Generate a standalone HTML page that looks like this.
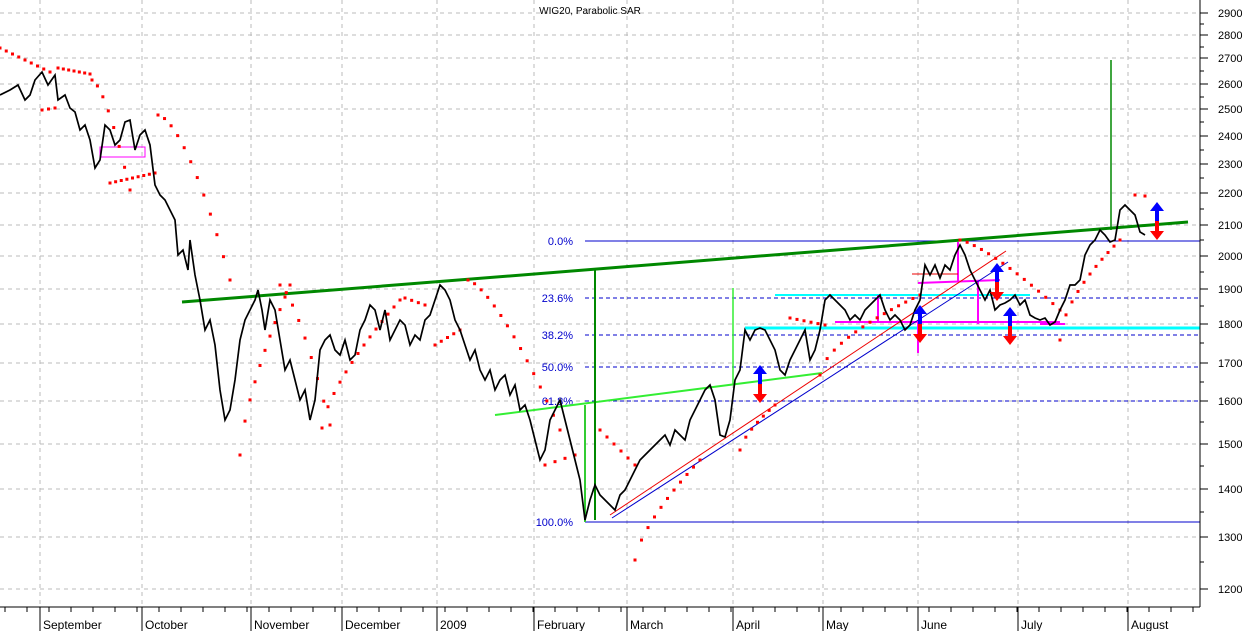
<!DOCTYPE html>
<html><head><meta charset="utf-8"><style>
body{margin:0;background:#fff;}
svg{display:block;font-family:"Liberation Sans",sans-serif;}
</style></head><body>
<svg id="c" width="1250" height="631" viewBox="0 0 1250 631" xmlns="http://www.w3.org/2000/svg">
<rect width="1250" height="631" fill="#fff"/>
<g stroke="#bbb" stroke-dasharray="4,4" stroke-width="1">
<line x1="0" x2="1200" y1="13" y2="13"/><line x1="0" x2="1200" y1="35" y2="35"/><line x1="0" x2="1200" y1="58" y2="58"/><line x1="0" x2="1200" y1="84" y2="84"/><line x1="0" x2="1200" y1="109" y2="109"/><line x1="0" x2="1200" y1="136" y2="136"/><line x1="0" x2="1200" y1="164" y2="164"/><line x1="0" x2="1200" y1="193" y2="193"/><line x1="0" x2="1200" y1="225" y2="225"/><line x1="0" x2="1200" y1="256" y2="256"/><line x1="0" x2="1200" y1="289" y2="289"/><line x1="0" x2="1200" y1="324" y2="324"/><line x1="0" x2="1200" y1="363" y2="363"/><line x1="0" x2="1200" y1="401" y2="401"/><line x1="0" x2="1200" y1="444" y2="444"/><line x1="0" x2="1200" y1="489" y2="489"/><line x1="0" x2="1200" y1="537" y2="537"/><line x1="0" x2="1200" y1="589" y2="589"/>
<line x1="40" x2="40" y1="0" y2="607"/><line x1="142" x2="142" y1="0" y2="607"/><line x1="251" x2="251" y1="0" y2="607"/><line x1="342" x2="342" y1="0" y2="607"/><line x1="437" x2="437" y1="0" y2="607"/><line x1="534" x2="534" y1="0" y2="607"/><line x1="627" x2="627" y1="0" y2="607"/><line x1="733" x2="733" y1="0" y2="607"/><line x1="823" x2="823" y1="0" y2="607"/><line x1="918" x2="918" y1="0" y2="607"/><line x1="1018" x2="1018" y1="0" y2="607"/><line x1="1128" x2="1128" y1="0" y2="607"/>
</g>
<text x="590" y="14" font-size="10" text-anchor="middle" fill="#000">WIG20, Parabolic SAR</text>
<g stroke="#00c" stroke-width="1">
<line x1="585" x2="1200" y1="241" y2="241"/><line x1="585" x2="1200" y1="522" y2="522"/>
<g stroke-dasharray="4,3"><line x1="585" x2="1200" y1="298" y2="298"/><line x1="585" x2="1200" y1="335" y2="335"/><line x1="585" x2="1200" y1="367" y2="367"/><line x1="585" x2="1200" y1="401" y2="401"/></g>
</g>
<g fill="#00c" font-size="11" text-anchor="end">
<text x="573" y="245">0.0%</text><text x="573" y="302">23.6%</text><text x="573" y="339">38.2%</text><text x="573" y="371">50.0%</text><text x="573" y="405">61.8%</text><text x="573" y="526">100.0%</text>
</g>
<rect x="100" y="147" width="45" height="10" fill="none" stroke="#f0f" stroke-width="1"/>
<line x1="745" y1="328" x2="1200" y2="328" stroke="#0ff" stroke-width="3"/>
<line x1="775" y1="295" x2="1030" y2="295" stroke="#0ff" stroke-width="2"/>
<g stroke="#f0f" stroke-width="2" fill="none">
<polyline points="835,322 1060,322"/><polyline points="878,295 878,322"/><polyline points="918,322 918,353"/>
<polyline points="918,283 1000,280"/><polyline points="958,242 958,282"/><polyline points="978,280 978,324"/>
<polyline points="1040,324 1065,324"/>
</g>
<line x1="912" y1="274" x2="958" y2="274" stroke="#e00"/>
<line x1="610" y1="515" x2="1006" y2="251" stroke="#e00" stroke-width="1"/>
<line x1="612" y1="518" x2="1008" y2="262" stroke="#00c" stroke-width="1"/>
<line x1="495" y1="415" x2="822" y2="373" stroke="#3e3" stroke-width="2"/>
<line x1="733" y1="288" x2="733" y2="385" stroke="#3e3" stroke-width="1.5"/>
<line x1="182" y1="302" x2="1188" y2="222" stroke="#080" stroke-width="3"/>
<line x1="595" y1="270" x2="595" y2="520" stroke="#080" stroke-width="2"/>
<line x1="585" y1="405" x2="585" y2="522" stroke="#3c3" stroke-width="2"/>
<line x1="1111" y1="60" x2="1111" y2="230" stroke="#080" stroke-width="1.5"/>
<g id="sar" fill="#f00"></g>
<polyline id="price" fill="none" stroke="#000" stroke-width="1.7" points="0,95 10,90 18,85 25,100 30,95 35,80 42,72 48,85 55,75 58,100 65,95 70,108 75,112 80,130 85,125 90,140 95,168 100,160 105,125 110,130 115,145 120,140 125,122 130,120 135,150 140,135 145,130 150,145 155,185 160,195 165,200 170,210 175,220 178,255 183,250 188,270 190,240 195,275 200,300 205,330 210,320 215,345 220,390 225,420 230,410 235,380 240,340 245,320 250,310 255,300 258,290 262,310 265,330 270,300 275,310 280,340 285,370 290,360 295,380 300,400 305,390 310,420 315,400 320,350 325,340 330,335 335,350 340,355 345,340 350,360 355,355 360,330 365,320 370,305 375,310 380,330 385,310 390,340 395,330 400,320 405,325 410,345 415,335 420,340 425,320 430,315 435,300 440,285 445,290 450,300 455,320 460,330 465,345 470,360 475,350 480,370 485,380 490,370 495,390 500,380 505,375 510,395 515,385 520,410 525,405 530,420 535,440 540,460 545,450 550,420 555,410 560,400 565,420 570,440 575,460 580,480 585,520 590,500 595,485 600,495 605,500 610,505 615,510 620,495 625,490 630,480 635,470 640,460 645,455 650,450 655,445 660,440 665,435 670,445 675,430 680,435 685,440 690,420 695,410 700,400 705,390 710,385 715,400 720,435 725,437 730,420 735,380 740,370 745,330 750,340 755,330 760,328 765,330 770,340 775,350 780,370 785,375 790,360 795,350 800,340 805,330 810,360 815,350 820,330 825,300 830,295 835,300 840,305 845,310 850,320 855,315 860,320 865,310 870,305 875,300 880,295 885,310 890,320 895,315 900,320 905,330 910,325 915,310 920,300 925,265 930,275 935,265 940,278 945,265 950,270 955,255 960,245 965,255 970,270 975,280 980,290 985,300 990,290 995,310 1000,305 1005,303 1010,300 1015,295 1020,305 1025,300 1030,315 1035,318 1040,320 1045,318 1050,325 1055,322 1060,310 1065,300 1070,285 1075,285 1080,280 1085,255 1090,245 1095,240 1100,230 1105,235 1110,242 1115,240 1120,210 1125,205 1130,210 1135,215 1140,232 1145,235"/>
<g id="arr"></g>
<line x1="1200" y1="0" x2="1200" y2="607" stroke="#000"/>
<line x1="0" y1="607" x2="1200" y2="607" stroke="#000"/>
<g id="ticks" stroke="#000"></g>
<g font-size="11" fill="#000">
<text x="1218" y="17">2900</text><text x="1218" y="39">2800</text><text x="1218" y="62">2700</text><text x="1218" y="88">2600</text><text x="1218" y="113">2500</text><text x="1218" y="140">2400</text><text x="1218" y="168">2300</text><text x="1218" y="197">2200</text><text x="1218" y="229">2100</text><text x="1218" y="260">2000</text><text x="1218" y="293">1900</text><text x="1218" y="328">1800</text><text x="1218" y="367">1700</text><text x="1218" y="405">1600</text><text x="1218" y="448">1500</text><text x="1218" y="493">1400</text><text x="1218" y="541">1300</text><text x="1218" y="593">1200</text>
</g>
<g font-size="12" fill="#000">
<text x="43" y="629">September</text><text x="145" y="629">October</text><text x="254" y="629">November</text><text x="345" y="629">December</text><text x="440" y="629">2009</text><text x="537" y="629">February</text><text x="630" y="629">March</text><text x="736" y="629">April</text><text x="826" y="629">May</text><text x="921" y="629">June</text><text x="1021" y="629">July</text><text x="1131" y="629">August</text>
</g>
</svg>
<script>
var ns="http://www.w3.org/2000/svg";
var s=document.getElementById("sar");
function run(x1,y1,x2,y2,n,c){n=Math.max(2,Math.round(n*0.75));for(var i=0;i<n;i++){var t=i/(n-1);var x=x1+(x2-x1)*t;var tt=c?Math.pow(t,c):t;var y=y1+(y2-y1)*tt;var r=document.createElementNS(ns,"rect");r.setAttribute("x",x-1.5);r.setAttribute("y",y-1.5);r.setAttribute("width",3);r.setAttribute("height",3);s.appendChild(r);}}
run(0,48,50,72,12);run(42,110,55,108,4);run(58,68,90,74,9);run(92,80,130,190,10,1.5);
run(110,183,155,173,12);run(158,115,230,280,16,1.6);run(240,455,290,285,14,0.7);
run(280,285,330,425,12,1.4);run(322,428,400,300,18,0.7);run(405,298,425,305,5);run(435,345,460,330,6);
run(468,280,560,430,20,1.4);run(545,465,575,455,5);run(600,430,635,465,8);
run(635,560,700,460,14,0.7);run(740,450,775,405,9,0.7);run(790,318,825,325,8);
run(820,375,920,295,20,0.6);run(960,240,1060,310,20,1.3);run(1060,340,1120,240,14,0.6);run(1135,195,1145,196,3);
var a=document.getElementById("arr");
function arrow(x,y){a.innerHTML+='<rect x="'+(x-2)+'" y="'+(y-13)+'" width="4" height="12" fill="#00f"/><polygon points="'+(x-7)+','+(y-11)+' '+x+','+(y-20)+' '+(x+7)+','+(y-11)+'" fill="#00f"/><rect x="'+(x-2)+'" y="'+(y-1)+'" width="4" height="12" fill="#f00"/><polygon points="'+(x-7)+','+(y+9)+' '+x+','+(y+18)+' '+(x+7)+','+(y+9)+'" fill="#f00"/>';}
arrow(760,385);arrow(920,325);arrow(997,283);arrow(1010,327);arrow(1157,222);
var tk=document.getElementById("ticks"),h="";
[13,35,58,84,109,136,164,193,225,256,289,324,363,401,444,489,537,589].forEach(function(y){h+='<line x1="1200" x2="1208" y1="'+y+'" y2="'+y+'"/>';});
[24,47,71,97,122,150,178,209,240,272,306,343,382,422,466,512,562].forEach(function(y){h+='<line x1="1200" x2="1204" y1="'+y+'" y2="'+y+'"/>';});
[40,142,251,342,437,534,627,733,823,918,1018,1128].forEach(function(x){h+='<line x1="'+x+'" x2="'+x+'" y1="607" y2="631"/>';});
for(var x=5;x<1200;x+=22){h+='<line x1="'+x+'" x2="'+x+'" y1="607" y2="612"/>';}
tk.innerHTML=h;
</script>
</body></html>
